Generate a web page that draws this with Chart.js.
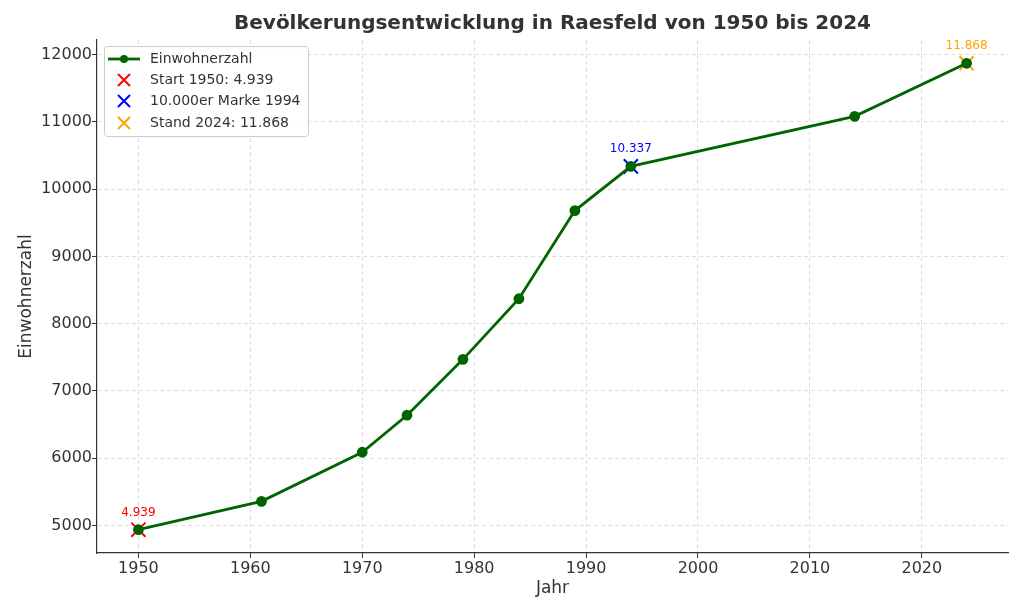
<!DOCTYPE html>
<html>
<head>
<meta charset="utf-8">
<script src="https://cdn.jsdelivr.net/npm/chart.js@4"></script>
<style>
  html, body { margin: 0; padding: 0; background: #fff; }
  #wrap { width: 1024px; height: 614px; }
</style>
</head>
<body>
<div id="wrap"><canvas id="popChart" width="1024" height="614"></canvas></div>
<script>
const years = [1950, 1961, 1970, 1974, 1979, 1984, 1989, 1994, 2014, 2024];
const population = [4939, 5360, 6090, 6640, 7470, 8370, 9680, 10337, 11080, 11868];
const xTicks = [1950, 1960, 1970, 1980, 1990, 2000, 2010, 2020];
const yTicks = [5000, 6000, 7000, 8000, 9000, 10000, 11000, 12000];

const markers = [
  { label: 'Start 1950: 4.939', year: 1950, value: 4939, text: '4.939', color: '#ff0000' },
  { label: '10.000er Marke 1994', year: 1994, value: 10337, text: '10.337', color: '#0000ff' },
  { label: 'Stand 2024: 11.868', year: 2024, value: 11868, text: '11.868', color: '#ffa500' },
];

const FONT = "'DejaVu Sans', sans-serif";
const GREEN = '#006400';

const lineData = years.map((y, i) => ({ x: y, y: population[i] }));

const datasets = [
  {
    label: 'Einwohnerzahl',
    data: lineData,
    borderColor: GREEN,
    backgroundColor: GREEN,
    borderWidth: 2.8,
    pointRadius: 4,
    pointHoverRadius: 4,
    showLine: true,
    tension: 0,
    order: 0,
  },
].concat(markers.map(m => ({
  label: m.label,
  data: [{ x: m.year, y: m.value }],
  borderColor: m.color,
  backgroundColor: m.color,
  pointStyle: 'crossRot',
  pointRadius: 10,
  pointBorderWidth: 2,
  showLine: false,
  order: 1,
})));

// title, value labels and legend box drawn by hand
const extras = {
  id: 'extras',
  afterDraw(chart) {
    const { ctx, chartArea, scales } = chart;
    ctx.save();
    ctx.fillStyle = '#333333';
    ctx.font = 'bold 20px ' + FONT;
    ctx.textAlign = 'center';
    ctx.textBaseline = 'middle';
    ctx.fillText('Bevölkerungsentwicklung in Raesfeld von 1950 bis 2024',
      (chartArea.left + chartArea.right) / 2, 24);

    ctx.font = '12px ' + FONT;
    markers.forEach(m => {
      ctx.fillStyle = m.color;
      ctx.fillText(m.text, scales.x.getPixelForValue(m.year),
        scales.y.getPixelForValue(m.value) - 17);
    });

    // legend
    const bx = 104, by = 46, bw = 204, bh = 90;
    ctx.fillStyle = 'rgba(255,255,255,0.8)';
    ctx.strokeStyle = '#cccccc';
    ctx.lineWidth = 1;
    ctx.beginPath();
    ctx.roundRect(bx + 0.5, by + 0.5, bw, bh, 3);
    ctx.fill();
    ctx.stroke();

    ctx.textAlign = 'left';
    ctx.font = '14px ' + FONT;
    const rows = [59, 80, 101, 123];
    ctx.strokeStyle = GREEN;
    ctx.lineWidth = 2.8;
    ctx.beginPath();
    ctx.moveTo(108, rows[0]);
    ctx.lineTo(140, rows[0]);
    ctx.stroke();
    ctx.fillStyle = GREEN;
    ctx.beginPath();
    ctx.arc(124, rows[0], 4, 0, Math.PI * 2);
    ctx.fill();
    ctx.fillStyle = '#333333';
    ctx.fillText('Einwohnerzahl', 150, rows[0]);
    markers.forEach((m, i) => {
      const cy = rows[i + 1];
      ctx.strokeStyle = m.color;
      ctx.lineWidth = 2;
      ctx.beginPath();
      ctx.moveTo(118, cy - 6); ctx.lineTo(130, cy + 6);
      ctx.moveTo(130, cy - 6); ctx.lineTo(118, cy + 6);
      ctx.stroke();
      ctx.fillStyle = '#333333';
      ctx.fillText(m.label, 150, cy);
    });
    ctx.restore();
  }
};

const gridOpts = {
  color: '#dddddd',
  tickColor: '#333333',
  tickLength: 5,
  tickBorderDash: [],
  tickWidth: 1,
};

const config = {
  type: 'scatter',
  data: { datasets: datasets },
  options: {
    responsive: false,
    animation: false,
    layout: { padding: { left: 12, right: 16, top: 40, bottom: 11 } },
    scales: {
      x: {
        type: 'linear',
        min: 1946.3,
        max: 2027.7,
        afterBuildTicks: (scale) => { scale.ticks = xTicks.map(v => ({ value: v })); },
        afterFit: (scale) => { scale.height = 50; },
        ticks: { color: '#333333', font: { family: FONT, size: 16 }, padding: 1,
          callback: (v) => String(v) },
        grid: gridOpts,
        border: { display: true, color: '#333333', width: 1.2, dash: [4, 3] },
        title: { display: true, text: 'Jahr', color: '#333333',
          font: { family: FONT, size: 17 }, padding: { top: 2 } },
      },
      y: {
        type: 'linear',
        min: 4593,
        max: 12214,
        afterBuildTicks: (scale) => { scale.ticks = yTicks.map(v => ({ value: v })); },
        afterFit: (scale) => { scale.width = 85; },
        ticks: { color: '#333333', font: { family: FONT, size: 16 }, padding: 0,
          callback: (v) => String(v) },
        grid: gridOpts,
        border: { display: true, color: '#333333', width: 1.2, dash: [4, 3] },
        title: { display: true, text: 'Einwohnerzahl', color: '#333333',
          font: { family: FONT, size: 17 }, padding: { bottom: 4 } },
      },
    },
    plugins: {
      legend: { display: false },
      title: { display: false },
      tooltip: { enabled: false },
    },
  },
  plugins: [extras],
};

const ctx = document.getElementById('popChart').getContext('2d');
new Chart(ctx, config);
</script>
</body>
</html>
